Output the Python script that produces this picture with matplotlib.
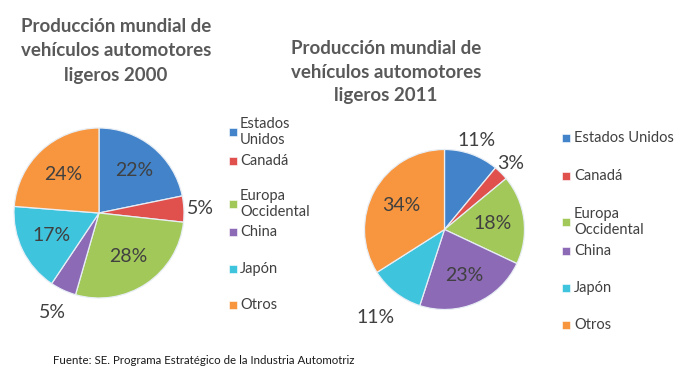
import matplotlib
matplotlib.use("Agg")
import matplotlib.pyplot as plt
from matplotlib.patches import Rectangle
import numpy as np

plt.rcParams['font.family'] = ['Lato', 'DejaVu Sans']

categories = ["Estados Unidos", "Canadá", "Europa Occidental", "China", "Japón", "Otros"]
values_2000 = [22, 5, 28, 5, 17, 24]
values_2011 = [11, 3, 18, 23, 11, 34]
title_2000 = "Producción mundial de\nvehículos automotores\nligeros 2000"
title_2011 = "Producción mundial de\nvehículos automotores\nligeros 2011"
source = "Fuente: SE. Programa Estratégico de la Industria Automotriz"

colors = ["#4283ca", "#e0504d", "#a3c85a", "#8c6ab6", "#3fc4de", "#f7963f"]
text_gray = "#404040"

W, H = 682, 377
fig = plt.figure(figsize=(W / 100, H / 100), dpi=100)

# overlay axes in pixel coordinates (y down) for titles and legends
over = fig.add_axes([0, 0, 1, 1])
over.set_xlim(0, W)
over.set_ylim(H, 0)
over.axis("off")


def pie_axes(cx, cy, r, lim=1.7):
    size = 2 * lim * r
    ax = fig.add_axes([(cx - size / 2) / W, 1 - (cy + size / 2) / H, size / W, size / H])
    return ax, lim


def draw_pie(cx, cy, r, values, label_dist):
    ax, lim = pie_axes(cx, cy, r)
    wedges, _, autotexts = ax.pie(
        values, colors=colors, startangle=90, counterclock=False,
        autopct=lambda p: "{0:.0f}%".format(p * sum(values) / 100),
        wedgeprops=dict(edgecolor="#e8eef5", linewidth=0.9),
        textprops=dict(fontsize=14, color=text_gray))
    for w, t, d in zip(wedges, autotexts, label_dist):
        ang = np.deg2rad((w.theta1 + w.theta2) / 2)
        t.set_position((d * np.cos(ang), d * np.sin(ang)))
    ax.set_xlim(-lim, lim)
    ax.set_ylim(-lim, lim)
    ax.set_zorder(0)
    return ax


draw_pie(99, 213, 85, values_2000, [0.65, 1.19, 0.62, 1.29, 0.62, 0.62])
draw_pie(444.5, 229.5, 80, values_2011, [1.18, 1.17, 0.61, 0.62, 1.40, 0.62])

over.set_zorder(5)

over.text(116, 51, title_2000, ha="center", va="center", fontsize=13.5,
          fontweight="bold", color="#595959", linespacing=1.5)
over.text(386, 72, title_2011, ha="center", va="center", fontsize=13.5,
          fontweight="bold", color="#595959", linespacing=1.5)


def legend(x_box, x_text, rows):
    for (label, y), c in zip(rows, colors):
        over.add_patch(Rectangle((x_box, y - 4.5), 8, 8, facecolor=c,
                                 edgecolor="#ffffff", linewidth=0.4))
        over.text(x_text, y, label, ha="left", va="center", fontsize=10.5,
                  color=text_gray, linespacing=1.2)


legend(229, 240, [("Estados\nUnidos", 132), ("Canadá", 161), ("Europa\nOccidental", 204),
                  ("China", 232), ("Japón", 269), ("Otros", 305)])
legend(562, 574, [("Estados Unidos", 138), ("Canadá", 176), ("Europa\nOccidental", 222),
                  ("China", 251), ("Japón", 288), ("Otros", 325)])

over.text(53, 360, source, ha="left", va="center", fontsize=8.3, color="#1a1a1a")

fig.savefig("out.png", dpi=100)
